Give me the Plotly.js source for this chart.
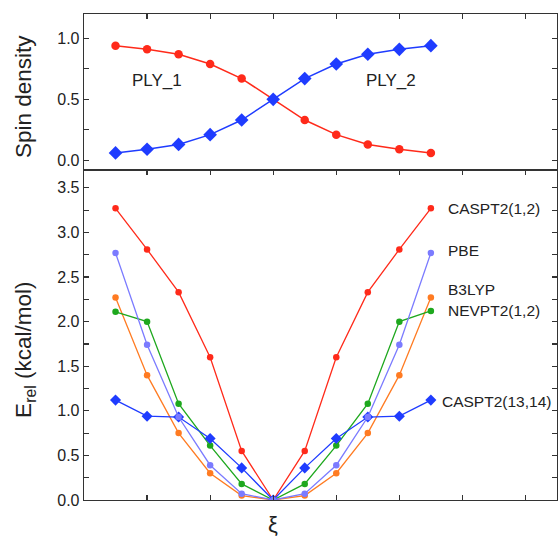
<!DOCTYPE html>
<html>
<head>
<meta charset="utf-8">
<script src="https://cdn.plot.ly/plotly-3.0.1.min.js"></script>
<style>html,body{margin:0;padding:0;background:#fff;}#chart{width:558px;height:542px;}</style>
</head>
<body>
<div id="chart"></div>
<script>
// Reaction coordinate index (xi), 11 points
const xi = [0, 1, 2, 3, 4, 5, 6, 7, 8, 9, 10];

// Top panel: spin density
const ply1 = [0.94, 0.91, 0.87, 0.79, 0.67, 0.50, 0.33, 0.21, 0.13, 0.09, 0.06];
const ply2 = [0.06, 0.09, 0.13, 0.21, 0.33, 0.50, 0.67, 0.79, 0.87, 0.91, 0.94];

// Bottom panel: relative energies (kcal/mol)
const caspt2_12   = [3.27, 2.81, 2.33, 1.60, 0.55, 0.00, 0.55, 1.60, 2.33, 2.81, 3.27];
const b3lyp       = [2.27, 1.40, 0.75, 0.30, 0.05, 0.00, 0.05, 0.30, 0.75, 1.40, 2.27];
const nevpt2_12   = [2.11, 2.00, 1.08, 0.61, 0.18, 0.00, 0.18, 0.61, 1.08, 2.00, 2.12];
const caspt2_1314 = [1.12, 0.94, 0.93, 0.69, 0.36, 0.00, 0.36, 0.69, 0.93, 0.94, 1.12];
const pbe         = [2.77, 1.74, 0.93, 0.39, 0.07, 0.00, 0.07, 0.39, 0.93, 1.74, 2.77];

const topTicks = [0, 0.5, 1.0];
const topTickText = ["0.0", "0.5", "1.0"];

const RED = "#ff2a1a", BLUE = "#1f3cff", PURPLE = "#7b7bff", ORANGE = "#ff7b22", GREEN = "#1ea81e";
const FONT = "Liberation Sans, Arial, Helvetica, sans-serif";
const INK = "#222";

function tr(y, color, sym, size, xa, ya, lw) {
  return {x: xi, y: y, type: "scatter", mode: "lines+markers", xaxis: xa, yaxis: ya,
    line: {color: color, width: lw}, marker: {color: color, symbol: sym, size: size},
    hoverinfo: "skip", showlegend: false};
}

const data = [
  tr(ply1, RED, "circle", 8.5, "x2", "y2", 1.5),
  tr(ply2, BLUE, "diamond", 10.5, "x2", "y2", 1.5),
  tr(caspt2_12, RED, "circle", 6.5, "x", "y", 1.3),
  tr(b3lyp, ORANGE, "circle", 6.5, "x", "y", 1.3),
  tr(nevpt2_12, GREEN, "circle", 6.5, "x", "y", 1.3),
  tr(caspt2_1314, BLUE, "diamond", 8.5, "x", "y", 1.3),
  tr(pbe, PURPLE, "circle", 6.5, "x", "y", 1.3)
];

const axisCommon = {showline: true, linecolor: "#333", linewidth: 1.3, ticks: "inside",
  ticklen: 5, tickwidth: 1.2, tickcolor: "#333", showgrid: false, zeroline: false,
  tickfont: {family: FONT, size: 16, color: INK}};

const layout = {
  width: 558, height: 542,
  margin: {l: 84, r: 1, t: 14, b: 42},
  paper_bgcolor: "#fff", plot_bgcolor: "#fff",
  font: {family: FONT, color: INK},
  xaxis: Object.assign({}, axisCommon, {domain: [0, 1], anchor: "y", range: [-1, 14],
    tickvals: [1, 3, 5, 7, 9, 11, 13], showticklabels: false, mirror: "ticks"}),
  yaxis: Object.assign({}, axisCommon, {domain: [0, 0.679], anchor: "x", range: [0, 3.7],
    dtick: 0.5, tick0: 0, tickformat: ".1f", mirror: "ticks",
    minor: {dtick: 0.25, tick0: 0, ticks: "inside", ticklen: 5, tickcolor: "#333", tickwidth: 1.2}}),
  xaxis2: Object.assign({}, axisCommon, {domain: [0, 1], anchor: "y2", range: [-1, 14],
    side: "top", tickvals: [1, 3, 5, 7, 9, 11, 13], showticklabels: false, mirror: true}),
  yaxis2: Object.assign({}, axisCommon, {domain: [0.679, 1], anchor: "x2", range: [-0.08, 1.2],
    tickvals: topTicks, ticktext: topTickText, mirror: "ticks",
    minor: {tickvals: [0.25, 0.75], ticks: "inside", ticklen: 5, tickcolor: "#333", tickwidth: 1.2}}),
  annotations: [
    {text: "PLY_1", x: 1.3, y: 0.657, xref: "x2", yref: "y2", showarrow: false, xanchor: "center", yanchor: "middle", font: {size: 17, family: FONT, color: INK}},
    {text: "PLY_2", x: 8.73, y: 0.657, xref: "x2", yref: "y2", showarrow: false, xanchor: "center", yanchor: "middle", font: {size: 17, family: FONT, color: INK}},
    {text: "CASPT2(1,2)", x: 10.48, y: 3.27, xref: "x", yref: "y", showarrow: false, xanchor: "left", yanchor: "middle", font: {size: 15.5, family: FONT, color: INK}},
    {text: "PBE", x: 10.48, y: 2.80, xref: "x", yref: "y", showarrow: false, xanchor: "left", yanchor: "middle", font: {size: 15.5, family: FONT, color: INK}},
    {text: "B3LYP", x: 10.48, y: 2.357, xref: "x", yref: "y", showarrow: false, xanchor: "left", yanchor: "middle", font: {size: 15.5, family: FONT, color: INK}},
    {text: "NEVPT2(1,2)", x: 10.48, y: 2.12, xref: "x", yref: "y", showarrow: false, xanchor: "left", yanchor: "middle", font: {size: 15.5, family: FONT, color: INK}},
    {text: "CASPT2(13,14)", x: 10.28, y: 1.11, xref: "x", yref: "y", showarrow: false, xanchor: "left", yanchor: "middle", font: {size: 15.5, family: FONT, color: INK}},
    {text: "ξ", x: 5, y: -0.05, xref: "x", yref: "paper", showarrow: false, xanchor: "center", yanchor: "middle", font: {size: 22, family: FONT, color: INK}},
    {text: "Spin density", x: -0.129, y: (542 - 42 - 96) / 486, xref: "paper", yref: "paper", showarrow: false, textangle: -90, xanchor: "center", yanchor: "middle", font: {size: 22.5, family: FONT, color: INK}},
    {text: "E<sub>rel</sub> (kcal/mol)", x: -0.125, y: (542 - 42 - 350) / 486, xref: "paper", yref: "paper", showarrow: false, textangle: -90, xanchor: "center", yanchor: "middle", font: {size: 22.5, family: FONT, color: INK}}
  ]
};

Plotly.newPlot("chart", data, layout, {displayModeBar: false, staticPlot: true});
</script>
</body>
</html>
